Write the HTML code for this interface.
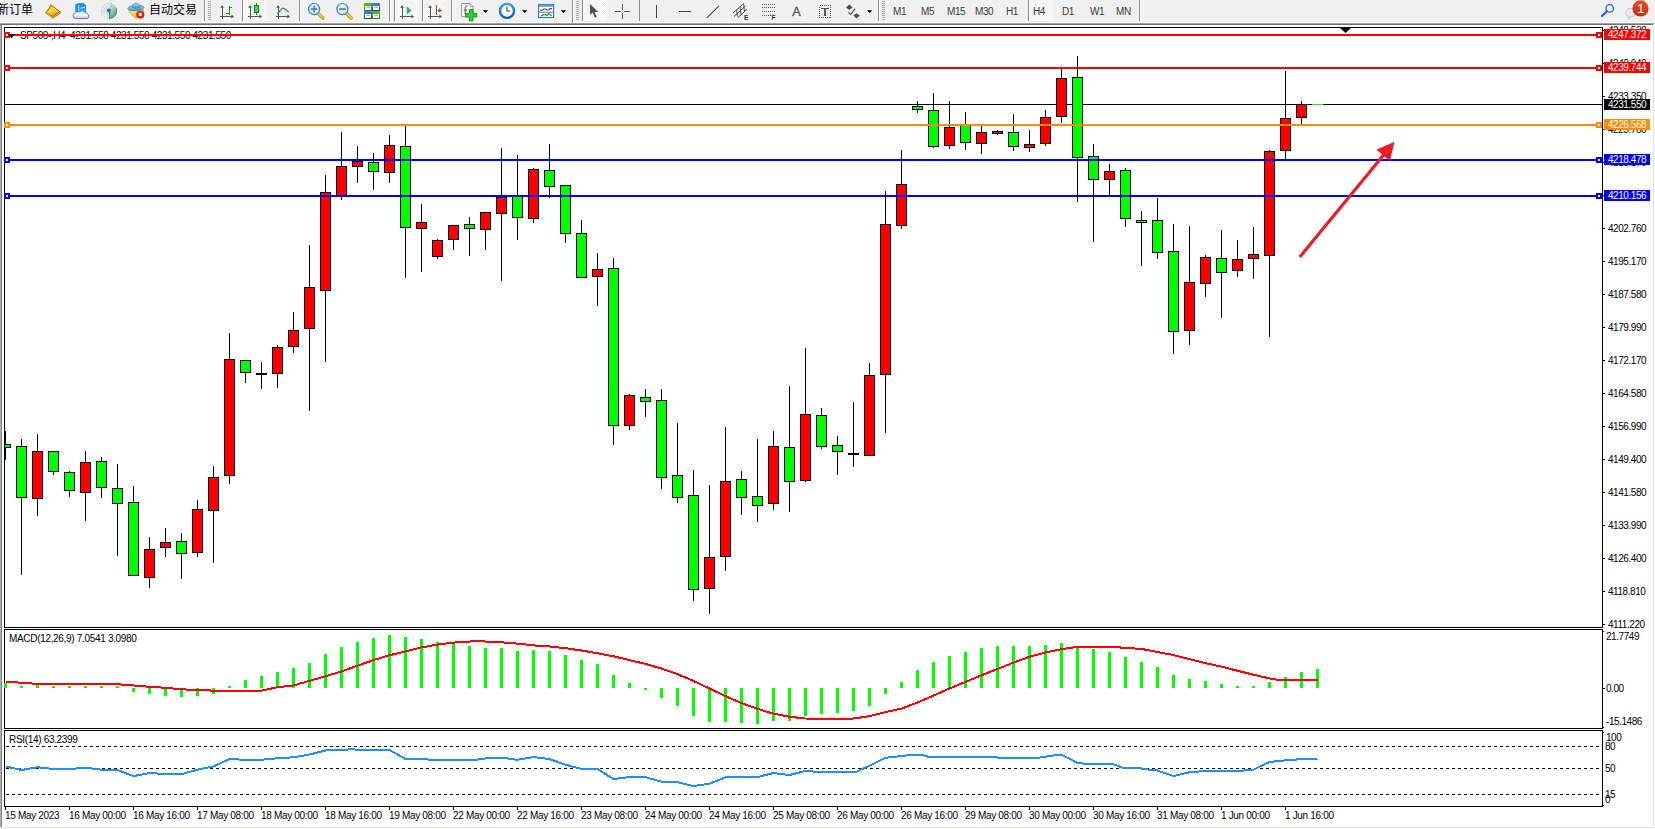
<!DOCTYPE html>
<html><head><meta charset="utf-8"><title>SP500-,H4</title>
<style>
html,body{margin:0;padding:0}
body{width:1655px;height:829px;overflow:hidden;background:#fff;position:relative;font-family:"Liberation Sans","Noto Sans CJK SC",sans-serif}
#tb{position:absolute;left:0;top:0;width:1655px;height:25px;background:#f0f0f0;overflow:hidden}
#tb .cj{position:absolute;top:3px;font-size:12px;line-height:14px;color:#000;white-space:nowrap;font-family:"Liberation Sans","Noto Sans CJK SC",sans-serif}
#tb .tf{position:absolute;top:6px;font-size:10px;line-height:12px;color:#3c3c3c;white-space:nowrap;letter-spacing:-0.4px}
#tb svg{position:absolute;left:0;top:0}
#ch{position:absolute;left:0;top:0}
#ch text{font-family:"Liberation Sans",sans-serif;font-size:10px;fill:#000;letter-spacing:-0.45px}
#ch text.w{fill:#fff}
#ch text.d{letter-spacing:-0.33px}
#ch text.t{letter-spacing:-0.32px}
</style></head><body>

<div id="tb">
<svg width="1655" height="25" viewBox="0 0 1655 25" shape-rendering="crispEdges">
<defs>
<pattern id="chk" width="2" height="2" patternUnits="userSpaceOnUse"><rect width="2" height="2" fill="#f0f0f0"/><rect width="1" height="1" fill="#fdfdfd"/><rect x="1" y="1" width="1" height="1" fill="#fdfdfd"/></pattern>
<linearGradient id="gold" x1="0.2" y1="0" x2="0.7" y2="1"><stop offset="0" stop-color="#e8b422"/><stop offset="0.45" stop-color="#fbdc3a"/><stop offset="1" stop-color="#d39a14"/></linearGradient>
<linearGradient id="blu" x1="0" y1="0" x2="0" y2="1"><stop offset="0" stop-color="#3c9cf0"/><stop offset="1" stop-color="#1058c0"/></linearGradient>
<linearGradient id="hat" x1="0" y1="0" x2="0" y2="1"><stop offset="0" stop-color="#a4daf4"/><stop offset="1" stop-color="#3f9fd6"/></linearGradient>
<linearGradient id="yel" x1="0" y1="0" x2="1" y2="1"><stop offset="0" stop-color="#fff08a"/><stop offset="1" stop-color="#e0a818"/></linearGradient>
<linearGradient id="redg" x1="0" y1="0" x2="0" y2="1"><stop offset="0" stop-color="#e8502c"/><stop offset="1" stop-color="#c82a12"/></linearGradient>
<linearGradient id="grn" x1="0" y1="0" x2="0" y2="1"><stop offset="0" stop-color="#52c422"/><stop offset="1" stop-color="#2a8a12"/></linearGradient>
<linearGradient id="bl2" x1="0" y1="0" x2="0" y2="1"><stop offset="0" stop-color="#4a80e8"/><stop offset="1" stop-color="#1a3cb0"/></linearGradient>
<linearGradient id="cloud" x1="0" y1="0" x2="0" y2="1"><stop offset="0" stop-color="#ffffff"/><stop offset="0.55" stop-color="#f2f5fb"/><stop offset="1" stop-color="#b9c8e6"/></linearGradient>
<linearGradient id="sweep" x1="0" y1="0" x2="0.6" y2="1"><stop offset="0" stop-color="#dfeee0"/><stop offset="0.5" stop-color="#a9d4a4"/><stop offset="1" stop-color="#3fa24a"/></linearGradient>
<radialGradient id="redg2" cx="0.4" cy="0.3" r="0.8"><stop offset="0" stop-color="#f0401c"/><stop offset="1" stop-color="#c81400"/></radialGradient>
<radialGradient id="lens" cx="0.4" cy="0.35" r="0.7"><stop offset="0" stop-color="#f4fbff"/><stop offset="1" stop-color="#bfe0f6"/></radialGradient>
</defs>
<rect x="0" y="22" width="1654" height="1" fill="#f8f8f8"/><rect x="0" y="23" width="1654" height="1" fill="#a2a2a2"/><rect x="0" y="24" width="1653" height="1" fill="#707070"/>
<rect x="1654" y="22" width="1" height="3" fill="#f8f8f8"/>
<g shape-rendering="auto"><path d="M50.5 4.2L60.3 11.2L60.8 13.2L52.9 18.7L45.1 12.9L49.2 7.6z" fill="#a86c12"/><path d="M51 5.6L59.2 11.5L52.6 15.9L46.6 12.4L50 8.2z" fill="url(#gold)"/><path d="M46.4 13.6L52.8 17.5L59.8 12.6" fill="none" stroke="#e8c860" stroke-width="0.8"/><path d="M75.3 4.6L78.6 3.2H83.5L86 5.4V12H75.3z" fill="#0a9af8"/><path d="M75.3 4.6L78.6 3.2H83.5L86 5.4L78.8 5.4z" fill="#3f7fe0"/><path d="M78.8 5.2V12" stroke="#e8f6ff" stroke-width="0.8"/><path d="M80.4 8.2l4.4-0.9" stroke="#d8efff" stroke-width="1.1"/><path d="M80.2 10.4h5" stroke="#7cc6fb" stroke-width="0.8"/><path d="M75.6 18.6a2.7 2.7 0 0 1 -0.5 -5.3a3 3 0 0 1 4.4 -1.2a3.2 3.2 0 0 1 5.4 0.6a2.2 2.2 0 0 1 2.6 1.3a2.4 2.4 0 0 1 -0.6 4.6z" fill="url(#cloud)" stroke="#4a68a8" stroke-width="0.9"/><path d="M109 10.8L110.4 3A8 8 0 0 1 109.4 18.8z" fill="url(#sweep)"/><circle cx="109" cy="10.8" r="7.6" fill="none" stroke="#8fb0e8" stroke-width="0.9" stroke-dasharray="2.2 1.1" opacity="0.75"/><circle cx="109" cy="10.8" r="5.2" fill="none" stroke="#7a9ee2" stroke-width="0.9" stroke-dasharray="1.8 1" opacity="0.7"/><circle cx="109" cy="10.8" r="3.1" fill="none" stroke="#9db8ea" stroke-width="0.8" opacity="0.6"/><path d="M116.4 8.5A7.8 7.8 0 0 1 110 18.6" fill="none" stroke="#3a8a5a" stroke-width="1" opacity="0.8"/><circle cx="108.8" cy="10.5" r="1.9" fill="#2a5ad0"/><path d="M109.6 11v7.7" fill="none" stroke="#22a832" stroke-width="1.3"/><path d="M128.2 10.4L144 9.8L140.5 14.5L135.9 18.7L132 15z" fill="url(#yel)" stroke="#c99a1a" stroke-width="0.6"/><ellipse cx="135.9" cy="7.9" rx="8" ry="2.6" transform="rotate(-4 135.9 7.9)" fill="url(#hat)" stroke="#1e7eae" stroke-width="0.7"/><path d="M132.4 7.6c0-2.6 1.4-4.6 3.6-4.6s3.7 2 3.7 4.4c-2 1-5.2 1.1-7.3 0.2z" fill="url(#hat)" stroke="#1e7eae" stroke-width="0.6"/><circle cx="140.3" cy="14.6" r="4.1" fill="url(#redg2)"/><rect x="138.9" y="13.2" width="2.9" height="2.8" fill="#fff"/></g>
<rect x="204" y="0" width="1" height="21" fill="#8c8c8c"/><rect x="205" y="0" width="1" height="21" fill="#fafafa"/>
<rect x="208" y="1" width="3" height="1" fill="#a6a6a6"/><rect x="208" y="3" width="3" height="1" fill="#a6a6a6"/><rect x="208" y="5" width="3" height="1" fill="#a6a6a6"/><rect x="208" y="7" width="3" height="1" fill="#a6a6a6"/><rect x="208" y="9" width="3" height="1" fill="#a6a6a6"/><rect x="208" y="11" width="3" height="1" fill="#a6a6a6"/><rect x="208" y="13" width="3" height="1" fill="#a6a6a6"/><rect x="208" y="15" width="3" height="1" fill="#a6a6a6"/><rect x="208" y="17" width="3" height="1" fill="#a6a6a6"/><rect x="208" y="19" width="3" height="1" fill="#a6a6a6"/>
<rect x="222" y="6" width="1" height="13" fill="#555"/><rect x="220" y="16" width="13" height="1" fill="#555"/><path d="M222 5.2l2 2.6h-4z" fill="#555" shape-rendering="auto"/><path d="M234 16.5l-2.6 -2v4z" fill="#555" shape-rendering="auto"/>
<rect x="229" y="6" width="1" height="9" fill="#189a18"/><rect x="229" y="7" width="3" height="1" fill="#189a18"/><rect x="226" y="13" width="3" height="1" fill="#189a18"/>
<rect x="242" y="0" width="1" height="21" fill="#8c8c8c"/>
<rect x="243" y="0" width="24" height="21" fill="url(#chk)"/>
<rect x="250" y="6" width="1" height="13" fill="#555"/><rect x="248" y="16" width="13" height="1" fill="#555"/><path d="M250 5.2l2 2.6h-4z" fill="#555" shape-rendering="auto"/><path d="M262 16.5l-2.6 -2v4z" fill="#555" shape-rendering="auto"/>
<rect x="256" y="3" width="1" height="12" fill="#0a8a0a"/><rect x="254" y="5" width="5" height="8" fill="#0a8a0a"/><rect x="255" y="6" width="3" height="6" fill="#3cdc3c"/>
<rect x="278" y="6" width="1" height="13" fill="#555"/><rect x="276" y="16" width="13" height="1" fill="#555"/><path d="M278 5.2l2 2.6h-4z" fill="#555" shape-rendering="auto"/><path d="M290 16.5l-2.6 -2v4z" fill="#555" shape-rendering="auto"/>
<path shape-rendering="auto" d="M277.2 13.8C280 12 281 8.2 283 8.2C285 8.2 286.5 11 288.8 12" fill="none" stroke="#2a9a2a" stroke-width="1.2"/>
<rect x="299" y="0" width="1" height="21" fill="#8c8c8c"/><rect x="300" y="0" width="1" height="21" fill="#fafafa"/>
<g shape-rendering="auto"><path d="M318.2 13.6l4.6 4.4" stroke="#b8901a" stroke-width="3.4" stroke-linecap="round"/><path d="M318.2 13.4l4.6 4.4" stroke="#f0d040" stroke-width="1.8" stroke-linecap="round"/><circle cx="314.1" cy="9.1" r="5.6" fill="url(#lens)" stroke="#3a7ccc" stroke-width="1.2"/><rect x="310.9" y="8.2" width="6.4" height="1.8" fill="#4a86b8"/><rect x="313.2" y="5.9" width="1.8" height="6.4" fill="#4a86b8"/></g>
<g shape-rendering="auto"><path d="M346.5 13.6l4.6 4.4" stroke="#b8901a" stroke-width="3.4" stroke-linecap="round"/><path d="M346.5 13.4l4.6 4.4" stroke="#f0d040" stroke-width="1.8" stroke-linecap="round"/><circle cx="342.4" cy="9.1" r="5.6" fill="url(#lens)" stroke="#3a7ccc" stroke-width="1.2"/><rect x="339.2" y="8.2" width="6.4" height="1.8" fill="#4a86b8"/></g>
<rect x="364" y="3" width="8" height="8" fill="url(#grn)"/><rect x="365" y="6" width="6" height="4" fill="#fff"/><rect x="366" y="7" width="4" height="1" fill="#9ed48a"/>
<rect x="372" y="3" width="8" height="8" fill="url(#bl2)"/><rect x="373" y="6" width="6" height="4" fill="#fff"/><rect x="374" y="7" width="4" height="1" fill="#9ab4ee"/>
<rect x="364" y="11" width="8" height="8" fill="url(#bl2)"/><rect x="365" y="14" width="6" height="4" fill="#fff"/><rect x="366" y="15" width="4" height="1" fill="#9ab4ee"/>
<rect x="372" y="11" width="8" height="8" fill="url(#grn)"/><rect x="373" y="14" width="6" height="4" fill="#fff"/><rect x="374" y="15" width="4" height="1" fill="#9ed48a"/>
<rect x="389" y="0" width="1" height="21" fill="#8c8c8c"/><rect x="390" y="0" width="1" height="21" fill="#fafafa"/>
<rect x="394" y="0" width="1" height="21" fill="#8c8c8c"/>
<rect x="395" y="0" width="24" height="21" fill="url(#chk)"/>
<rect x="402" y="6" width="1" height="13" fill="#555"/><rect x="400" y="16" width="13" height="1" fill="#555"/><path d="M402 5.2l2 2.6h-4z" fill="#555" shape-rendering="auto"/><path d="M414 16.5l-2.6 -2v4z" fill="#555" shape-rendering="auto"/>
<path shape-rendering="auto" d="M407.2 6.9v6.9l3.9 -3.4z" fill="#2ec24a" stroke="#189a30" stroke-width="0.6"/>
<rect x="422" y="0" width="1" height="21" fill="#8c8c8c"/>
<rect x="423" y="0" width="24" height="21" fill="url(#chk)"/>
<rect x="430" y="6" width="1" height="13" fill="#555"/><rect x="428" y="16" width="13" height="1" fill="#555"/><path d="M430 5.2l2 2.6h-4z" fill="#555" shape-rendering="auto"/><path d="M442 16.5l-2.6 -2v4z" fill="#555" shape-rendering="auto"/>
<rect x="436" y="5" width="1" height="10" fill="#1f6eb4"/>
<path shape-rendering="auto" d="M437.2 10.5l3 -2.6v1.9h1.8v1.4h-1.8v1.9z" fill="#e24a0a"/>
<rect x="451" y="0" width="1" height="21" fill="#8c8c8c"/><rect x="452" y="0" width="1" height="21" fill="#fafafa"/>
<g shape-rendering="auto"><path d="M461.6 3.5h8.4l3 3v10h-11.4z" fill="#fafafa" stroke="#8a8a8a" stroke-width="0.9"/><path d="M470 3.5v3h3" fill="#e4e4e4" stroke="#8a8a8a" stroke-width="0.7"/><path d="M467.6 6.2c-1.8-0.4-2.4 0.4-2.4 1.8v6.4M463.8 10.2h3.2" fill="none" stroke="#555" stroke-width="1"/><path d="M469.4 9.6h3.6v3.8h3.8v3.6h-3.8v3.8h-3.6v-3.8h-3.8v-3.6h3.8z" fill="#2fd02f" stroke="#0e8a0e" stroke-width="0.9"/></g>
<path d="M482.8 10.2h5.4l-2.7 2.9z" fill="#000" shape-rendering="auto"/>
<g shape-rendering="auto"><circle cx="507" cy="10.9" r="7" fill="#fdfdfd" stroke="url(#blu)" stroke-width="2.4"/><path d="M507 6.6v4.4h3.2" fill="none" stroke="#444" stroke-width="1.1"/><circle cx="507" cy="14.6" r="0.7" fill="#8ab8ee"/></g>
<path d="M522.0 10.2h5.4l-2.7 2.9z" fill="#000" shape-rendering="auto"/>
<g shape-rendering="auto"><rect x="538.6" y="4.5" width="15" height="13" fill="#fff" stroke="#3a72c4" stroke-width="1.1"/><rect x="539" y="4.6" width="14.2" height="2.2" fill="#5a9ae4"/><path d="M539 12.2h14.2" stroke="#3a72c4" stroke-width="0.9"/><path d="M540.2 10.4h2l1.8-1.4h1.6l1.4 1h1.8l1.4-1.4h1.8" fill="none" stroke="#a83210" stroke-width="1.2"/><path d="M540.8 15.6h1.4l1.6-1h1.6l1.4 1l2-2.2l2 2.2h1" fill="none" stroke="#1c9a2c" stroke-width="1.2"/></g>
<path d="M560.8 10.2h5.4l-2.7 2.9z" fill="#000" shape-rendering="auto"/>
<rect x="572" y="0" width="1" height="23" fill="#8c8c8c"/><rect x="573" y="0" width="1" height="23" fill="#fafafa"/>
<rect x="576" y="1" width="3" height="1" fill="#a6a6a6"/><rect x="576" y="3" width="3" height="1" fill="#a6a6a6"/><rect x="576" y="5" width="3" height="1" fill="#a6a6a6"/><rect x="576" y="7" width="3" height="1" fill="#a6a6a6"/><rect x="576" y="9" width="3" height="1" fill="#a6a6a6"/><rect x="576" y="11" width="3" height="1" fill="#a6a6a6"/><rect x="576" y="13" width="3" height="1" fill="#a6a6a6"/><rect x="576" y="15" width="3" height="1" fill="#a6a6a6"/><rect x="576" y="17" width="3" height="1" fill="#a6a6a6"/><rect x="576" y="19" width="3" height="1" fill="#a6a6a6"/>
<rect x="582" y="0" width="1" height="21" fill="#8c8c8c"/>
<rect x="583" y="0" width="24" height="21" fill="url(#chk)"/>
<path shape-rendering="auto" d="M590 4v11l2.6-2.4l2.2 5l1.9-0.9l-2.2-4.8h3.7z" fill="#505050"/>
<rect x="615" y="11" width="6" height="1" fill="#555"/><rect x="624" y="11" width="6" height="1" fill="#555"/><rect x="622" y="4" width="1" height="6" fill="#555"/><rect x="622" y="13" width="1" height="6" fill="#555"/><rect x="622" y="11" width="1" height="1" fill="#999"/>
<rect x="639" y="0" width="1" height="21" fill="#8c8c8c"/>
<rect x="656" y="5" width="1" height="13" fill="#444"/>
<rect x="679" y="11" width="12" height="1" fill="#444"/>
<path shape-rendering="auto" d="M706.8 17.8L719 5.8" stroke="#444" stroke-width="1.1"/>
<g shape-rendering="auto" stroke="#444" stroke-width="1" fill="none"><path d="M733 13l9.5-8.5M734 16.5l11.5-10.5M738 17.5l9-8.2"/><path d="M736.5 9.5l1 7M740 7l1 7.5M743.5 3.2l1 8" stroke-width="0.9"/></g>
<text x="744" y="19.6" font-size="6.5" font-weight="bold" fill="#333" font-family="Liberation Sans, sans-serif">E</text>
<line x1="762" y1="4.5" x2="775" y2="4.5" stroke="#555" stroke-width="1" stroke-dasharray="1 1"/>
<line x1="762" y1="7.5" x2="775" y2="7.5" stroke="#555" stroke-width="1" stroke-dasharray="1 1"/>
<line x1="762" y1="11.5" x2="775" y2="11.5" stroke="#555" stroke-width="1" stroke-dasharray="1 1"/>
<line x1="762" y1="15.5" x2="771" y2="15.5" stroke="#555" stroke-width="1" stroke-dasharray="1 1"/>
<text x="771.6" y="19.6" font-size="6.5" font-weight="bold" fill="#333" font-family="Liberation Sans, sans-serif">F</text>
<text x="792.3" y="16" font-size="12.6" fill="#555" stroke="#555" stroke-width="0.3" font-family="Liberation Sans, sans-serif">A</text>
<rect x="819.5" y="5.5" width="11" height="12" fill="none" stroke="#555" stroke-width="1" stroke-dasharray="1 1"/>
<rect x="821" y="8" width="8" height="1" fill="#555"/><rect x="824" y="8" width="2" height="8" fill="#555"/>
<path shape-rendering="auto" d="M849.3 4.6l3.3 3l-3.3 2.4l-3.3-2.4zM856.5 18.6l3.3-3l-3.3-2.4l-3.3 2.4z" fill="#505050"/><path shape-rendering="auto" d="M848.3 12.6l2.4 1.8l4.4-5.6" fill="none" stroke="#505050" stroke-width="1.3"/>
<path d="M867.0 10.2h5.4l-2.7 2.9z" fill="#000" shape-rendering="auto"/>
<rect x="878" y="0" width="1" height="21" fill="#8c8c8c"/><rect x="879" y="0" width="1" height="21" fill="#fafafa"/>
<rect x="882" y="1" width="3" height="1" fill="#a6a6a6"/><rect x="882" y="3" width="3" height="1" fill="#a6a6a6"/><rect x="882" y="5" width="3" height="1" fill="#a6a6a6"/><rect x="882" y="7" width="3" height="1" fill="#a6a6a6"/><rect x="882" y="9" width="3" height="1" fill="#a6a6a6"/><rect x="882" y="11" width="3" height="1" fill="#a6a6a6"/><rect x="882" y="13" width="3" height="1" fill="#a6a6a6"/><rect x="882" y="15" width="3" height="1" fill="#a6a6a6"/><rect x="882" y="17" width="3" height="1" fill="#a6a6a6"/><rect x="882" y="19" width="3" height="1" fill="#a6a6a6"/>
<rect x="1028" y="0" width="1" height="21" fill="#8c8c8c"/>
<rect x="1029" y="0" width="24" height="21" fill="url(#chk)"/>
<rect x="1139" y="0" width="1" height="21" fill="#8c8c8c"/><rect x="1140" y="0" width="1" height="21" fill="#fafafa"/>
<g shape-rendering="auto"><circle cx="1609.7" cy="8.4" r="3.7" fill="#f4f4f4" stroke="#2a5fd2" stroke-width="1.3"/><path d="M1607 11.2l-5 4.8" stroke="#2a5fd2" stroke-width="2.2" stroke-linecap="round"/></g>
<g shape-rendering="auto"><path d="M1627 9.5c3-2 8-1.5 10 1c1.5 3-1 6-6.5 6.2l-1.6 2.6l-0.4-2.8c-3-0.8-4-4.6-1.5-7z" fill="#e6e8ee" stroke="#bcbcc4" stroke-width="0.8"/><circle cx="1640.5" cy="8.4" r="8.1" fill="url(#redg)"/></g>
<text x="1637" y="13.2" font-size="13.5" fill="#fff" font-family="Liberation Sans, sans-serif">1</text>
</svg>
<div class="cj" style="left:-3px">新订单</div>
<div class="cj" style="left:149px">自动交易</div>
<div class="tf" style="left:893px">M1</div>
<div class="tf" style="left:921px">M5</div>
<div class="tf" style="left:947px">M15</div>
<div class="tf" style="left:975px">M30</div>
<div class="tf" style="left:1006px">H1</div>
<div class="tf" style="left:1033px">H4</div>
<div class="tf" style="left:1062px">D1</div>
<div class="tf" style="left:1090px">W1</div>
<div class="tf" style="left:1116px">MN</div>
</div>
<svg id="ch" width="1655" height="829" viewBox="0 0 1655 829" shape-rendering="crispEdges">
<rect x="0" y="25" width="1" height="802" fill="#b0b0b0"/><rect x="1" y="25" width="1" height="802" fill="#808080"/>
<rect x="1653" y="25" width="1" height="803" fill="#e4e4e4"/>
<rect x="0" y="827" width="1654" height="1" fill="#e4e4e4"/>
<rect x="5" y="104" width="1597" height="1" fill="#000"/>
<clipPath id="cp"><rect x="5" y="28" width="1597" height="599"/></clipPath><g clip-path="url(#cp)">
<rect x="5" y="431" width="1" height="29" fill="#000"/>
<rect x="0" y="444" width="11" height="4" fill="#000"/>
<rect x="1" y="445" width="9" height="2" fill="#00ff00"/>
<rect x="21" y="439" width="1" height="136" fill="#000"/>
<rect x="16" y="446" width="11" height="52" fill="#000"/>
<rect x="17" y="447" width="9" height="50" fill="#00ff00"/>
<rect x="37" y="434" width="1" height="82" fill="#000"/>
<rect x="32" y="451" width="11" height="48" fill="#000"/>
<rect x="33" y="452" width="9" height="46" fill="#ff0000"/>
<rect x="53" y="451" width="1" height="24" fill="#000"/>
<rect x="48" y="451" width="11" height="21" fill="#000"/>
<rect x="49" y="452" width="9" height="19" fill="#00ff00"/>
<rect x="69" y="471" width="1" height="26" fill="#000"/>
<rect x="64" y="472" width="11" height="19" fill="#000"/>
<rect x="65" y="473" width="9" height="17" fill="#00ff00"/>
<rect x="85" y="451" width="1" height="70" fill="#000"/>
<rect x="80" y="462" width="11" height="31" fill="#000"/>
<rect x="81" y="463" width="9" height="29" fill="#ff0000"/>
<rect x="101" y="457" width="1" height="41" fill="#000"/>
<rect x="96" y="461" width="11" height="27" fill="#000"/>
<rect x="97" y="462" width="9" height="25" fill="#00ff00"/>
<rect x="117" y="464" width="1" height="92" fill="#000"/>
<rect x="112" y="488" width="11" height="16" fill="#000"/>
<rect x="113" y="489" width="9" height="14" fill="#00ff00"/>
<rect x="133" y="486" width="1" height="89" fill="#000"/>
<rect x="128" y="502" width="11" height="74" fill="#000"/>
<rect x="129" y="503" width="9" height="72" fill="#00ff00"/>
<rect x="149" y="537" width="1" height="51" fill="#000"/>
<rect x="144" y="549" width="11" height="29" fill="#000"/>
<rect x="145" y="550" width="9" height="27" fill="#ff0000"/>
<rect x="165" y="528" width="1" height="29" fill="#000"/>
<rect x="160" y="542" width="11" height="6" fill="#000"/>
<rect x="161" y="543" width="9" height="4" fill="#ff0000"/>
<rect x="181" y="533" width="1" height="46" fill="#000"/>
<rect x="176" y="541" width="11" height="13" fill="#000"/>
<rect x="177" y="542" width="9" height="11" fill="#00ff00"/>
<rect x="197" y="500" width="1" height="57" fill="#000"/>
<rect x="192" y="509" width="11" height="44" fill="#000"/>
<rect x="193" y="510" width="9" height="42" fill="#ff0000"/>
<rect x="213" y="466" width="1" height="97" fill="#000"/>
<rect x="208" y="477" width="11" height="34" fill="#000"/>
<rect x="209" y="478" width="9" height="32" fill="#ff0000"/>
<rect x="229" y="333" width="1" height="151" fill="#000"/>
<rect x="224" y="359" width="11" height="117" fill="#000"/>
<rect x="225" y="360" width="9" height="115" fill="#ff0000"/>
<rect x="245" y="360" width="1" height="23" fill="#000"/>
<rect x="240" y="360" width="11" height="13" fill="#000"/>
<rect x="241" y="361" width="9" height="11" fill="#00ff00"/>
<rect x="261" y="362" width="1" height="27" fill="#000"/>
<rect x="256" y="373" width="11" height="2" fill="#000"/>
<rect x="277" y="345" width="1" height="43" fill="#000"/>
<rect x="272" y="347" width="11" height="27" fill="#000"/>
<rect x="273" y="348" width="9" height="25" fill="#ff0000"/>
<rect x="293" y="312" width="1" height="41" fill="#000"/>
<rect x="288" y="330" width="11" height="17" fill="#000"/>
<rect x="289" y="331" width="9" height="15" fill="#ff0000"/>
<rect x="309" y="245" width="1" height="166" fill="#000"/>
<rect x="304" y="287" width="11" height="42" fill="#000"/>
<rect x="305" y="288" width="9" height="40" fill="#ff0000"/>
<rect x="325" y="175" width="1" height="187" fill="#000"/>
<rect x="320" y="192" width="11" height="99" fill="#000"/>
<rect x="321" y="193" width="9" height="97" fill="#ff0000"/>
<rect x="341" y="132" width="1" height="68" fill="#000"/>
<rect x="336" y="166" width="11" height="30" fill="#000"/>
<rect x="337" y="167" width="9" height="28" fill="#ff0000"/>
<rect x="357" y="146" width="1" height="37" fill="#000"/>
<rect x="352" y="161" width="11" height="6" fill="#000"/>
<rect x="353" y="162" width="9" height="4" fill="#ff0000"/>
<rect x="373" y="153" width="1" height="37" fill="#000"/>
<rect x="368" y="162" width="11" height="10" fill="#000"/>
<rect x="369" y="163" width="9" height="8" fill="#00ff00"/>
<rect x="389" y="135" width="1" height="48" fill="#000"/>
<rect x="384" y="145" width="11" height="28" fill="#000"/>
<rect x="385" y="146" width="9" height="26" fill="#ff0000"/>
<rect x="405" y="125" width="1" height="153" fill="#000"/>
<rect x="400" y="146" width="11" height="82" fill="#000"/>
<rect x="401" y="147" width="9" height="80" fill="#00ff00"/>
<rect x="421" y="204" width="1" height="68" fill="#000"/>
<rect x="416" y="222" width="11" height="7" fill="#000"/>
<rect x="417" y="223" width="9" height="5" fill="#ff0000"/>
<rect x="437" y="239" width="1" height="20" fill="#000"/>
<rect x="432" y="240" width="11" height="17" fill="#000"/>
<rect x="433" y="241" width="9" height="15" fill="#ff0000"/>
<rect x="453" y="225" width="1" height="25" fill="#000"/>
<rect x="448" y="225" width="11" height="15" fill="#000"/>
<rect x="449" y="226" width="9" height="13" fill="#ff0000"/>
<rect x="469" y="217" width="1" height="39" fill="#000"/>
<rect x="464" y="224" width="11" height="5" fill="#000"/>
<rect x="465" y="225" width="9" height="3" fill="#00ff00"/>
<rect x="485" y="212" width="1" height="38" fill="#000"/>
<rect x="480" y="212" width="11" height="18" fill="#000"/>
<rect x="481" y="213" width="9" height="16" fill="#ff0000"/>
<rect x="501" y="148" width="1" height="133" fill="#000"/>
<rect x="496" y="197" width="11" height="17" fill="#000"/>
<rect x="497" y="198" width="9" height="15" fill="#ff0000"/>
<rect x="517" y="155" width="1" height="85" fill="#000"/>
<rect x="512" y="196" width="11" height="22" fill="#000"/>
<rect x="513" y="197" width="9" height="20" fill="#00ff00"/>
<rect x="533" y="168" width="1" height="55" fill="#000"/>
<rect x="528" y="169" width="11" height="50" fill="#000"/>
<rect x="529" y="170" width="9" height="48" fill="#ff0000"/>
<rect x="549" y="144" width="1" height="54" fill="#000"/>
<rect x="544" y="170" width="11" height="17" fill="#000"/>
<rect x="545" y="171" width="9" height="15" fill="#00ff00"/>
<rect x="565" y="186" width="1" height="57" fill="#000"/>
<rect x="560" y="185" width="11" height="49" fill="#000"/>
<rect x="561" y="186" width="9" height="47" fill="#00ff00"/>
<rect x="581" y="220" width="1" height="57" fill="#000"/>
<rect x="576" y="233" width="11" height="45" fill="#000"/>
<rect x="577" y="234" width="9" height="43" fill="#00ff00"/>
<rect x="597" y="253" width="1" height="53" fill="#000"/>
<rect x="592" y="269" width="11" height="8" fill="#000"/>
<rect x="593" y="270" width="9" height="6" fill="#ff0000"/>
<rect x="613" y="258" width="1" height="187" fill="#000"/>
<rect x="608" y="268" width="11" height="158" fill="#000"/>
<rect x="609" y="269" width="9" height="156" fill="#00ff00"/>
<rect x="629" y="394" width="1" height="36" fill="#000"/>
<rect x="624" y="395" width="11" height="31" fill="#000"/>
<rect x="625" y="396" width="9" height="29" fill="#ff0000"/>
<rect x="645" y="389" width="1" height="28" fill="#000"/>
<rect x="640" y="397" width="11" height="5" fill="#000"/>
<rect x="641" y="398" width="9" height="3" fill="#00ff00"/>
<rect x="661" y="389" width="1" height="100" fill="#000"/>
<rect x="656" y="400" width="11" height="78" fill="#000"/>
<rect x="657" y="401" width="9" height="76" fill="#00ff00"/>
<rect x="677" y="423" width="1" height="80" fill="#000"/>
<rect x="672" y="475" width="11" height="23" fill="#000"/>
<rect x="673" y="476" width="9" height="21" fill="#00ff00"/>
<rect x="693" y="470" width="1" height="131" fill="#000"/>
<rect x="688" y="495" width="11" height="95" fill="#000"/>
<rect x="689" y="496" width="9" height="93" fill="#00ff00"/>
<rect x="709" y="485" width="1" height="129" fill="#000"/>
<rect x="704" y="557" width="11" height="32" fill="#000"/>
<rect x="705" y="558" width="9" height="30" fill="#ff0000"/>
<rect x="725" y="427" width="1" height="144" fill="#000"/>
<rect x="720" y="481" width="11" height="76" fill="#000"/>
<rect x="721" y="482" width="9" height="74" fill="#ff0000"/>
<rect x="741" y="471" width="1" height="44" fill="#000"/>
<rect x="736" y="479" width="11" height="19" fill="#000"/>
<rect x="737" y="480" width="9" height="17" fill="#00ff00"/>
<rect x="757" y="439" width="1" height="83" fill="#000"/>
<rect x="752" y="496" width="11" height="10" fill="#000"/>
<rect x="753" y="497" width="9" height="8" fill="#00ff00"/>
<rect x="773" y="431" width="1" height="79" fill="#000"/>
<rect x="768" y="446" width="11" height="58" fill="#000"/>
<rect x="769" y="447" width="9" height="56" fill="#ff0000"/>
<rect x="789" y="386" width="1" height="126" fill="#000"/>
<rect x="784" y="447" width="11" height="35" fill="#000"/>
<rect x="785" y="448" width="9" height="33" fill="#00ff00"/>
<rect x="805" y="348" width="1" height="134" fill="#000"/>
<rect x="800" y="414" width="11" height="67" fill="#000"/>
<rect x="801" y="415" width="9" height="65" fill="#ff0000"/>
<rect x="821" y="408" width="1" height="41" fill="#000"/>
<rect x="816" y="415" width="11" height="32" fill="#000"/>
<rect x="817" y="416" width="9" height="30" fill="#00ff00"/>
<rect x="837" y="436" width="1" height="39" fill="#000"/>
<rect x="832" y="445" width="11" height="7" fill="#000"/>
<rect x="833" y="446" width="9" height="5" fill="#00ff00"/>
<rect x="853" y="402" width="1" height="65" fill="#000"/>
<rect x="848" y="453" width="11" height="2" fill="#000"/>
<rect x="869" y="363" width="1" height="93" fill="#000"/>
<rect x="864" y="375" width="11" height="81" fill="#000"/>
<rect x="865" y="376" width="9" height="79" fill="#ff0000"/>
<rect x="885" y="191" width="1" height="242" fill="#000"/>
<rect x="880" y="224" width="11" height="151" fill="#000"/>
<rect x="881" y="225" width="9" height="149" fill="#ff0000"/>
<rect x="901" y="150" width="1" height="79" fill="#000"/>
<rect x="896" y="184" width="11" height="42" fill="#000"/>
<rect x="897" y="185" width="9" height="40" fill="#ff0000"/>
<rect x="917" y="101" width="1" height="12" fill="#000"/>
<rect x="912" y="106" width="11" height="4" fill="#000"/>
<rect x="913" y="107" width="9" height="2" fill="#00ff00"/>
<rect x="933" y="93" width="1" height="55" fill="#000"/>
<rect x="928" y="110" width="11" height="37" fill="#000"/>
<rect x="929" y="111" width="9" height="35" fill="#00ff00"/>
<rect x="949" y="101" width="1" height="48" fill="#000"/>
<rect x="944" y="127" width="11" height="19" fill="#000"/>
<rect x="945" y="128" width="9" height="17" fill="#ff0000"/>
<rect x="965" y="112" width="1" height="38" fill="#000"/>
<rect x="960" y="125" width="11" height="18" fill="#000"/>
<rect x="961" y="126" width="9" height="16" fill="#00ff00"/>
<rect x="981" y="126" width="1" height="28" fill="#000"/>
<rect x="976" y="132" width="11" height="12" fill="#000"/>
<rect x="977" y="133" width="9" height="10" fill="#ff0000"/>
<rect x="997" y="130" width="1" height="5" fill="#000"/>
<rect x="992" y="131" width="11" height="3" fill="#000"/>
<rect x="993" y="132" width="9" height="1" fill="#ff0000"/>
<rect x="1013" y="114" width="1" height="37" fill="#000"/>
<rect x="1008" y="132" width="11" height="15" fill="#000"/>
<rect x="1009" y="133" width="9" height="13" fill="#00ff00"/>
<rect x="1029" y="130" width="1" height="22" fill="#000"/>
<rect x="1024" y="144" width="11" height="4" fill="#000"/>
<rect x="1025" y="145" width="9" height="2" fill="#ff0000"/>
<rect x="1045" y="110" width="1" height="36" fill="#000"/>
<rect x="1040" y="117" width="11" height="27" fill="#000"/>
<rect x="1041" y="118" width="9" height="25" fill="#ff0000"/>
<rect x="1061" y="69" width="1" height="54" fill="#000"/>
<rect x="1056" y="78" width="11" height="39" fill="#000"/>
<rect x="1057" y="79" width="9" height="37" fill="#ff0000"/>
<rect x="1077" y="56" width="1" height="146" fill="#000"/>
<rect x="1072" y="77" width="11" height="81" fill="#000"/>
<rect x="1073" y="78" width="9" height="79" fill="#00ff00"/>
<rect x="1093" y="144" width="1" height="98" fill="#000"/>
<rect x="1088" y="156" width="11" height="24" fill="#000"/>
<rect x="1089" y="157" width="9" height="22" fill="#00ff00"/>
<rect x="1109" y="164" width="1" height="31" fill="#000"/>
<rect x="1104" y="171" width="11" height="9" fill="#000"/>
<rect x="1105" y="172" width="9" height="7" fill="#ff0000"/>
<rect x="1125" y="168" width="1" height="59" fill="#000"/>
<rect x="1120" y="170" width="11" height="49" fill="#000"/>
<rect x="1121" y="171" width="9" height="47" fill="#00ff00"/>
<rect x="1141" y="211" width="1" height="55" fill="#000"/>
<rect x="1136" y="220" width="11" height="3" fill="#000"/>
<rect x="1137" y="221" width="9" height="1" fill="#00ff00"/>
<rect x="1157" y="198" width="1" height="61" fill="#000"/>
<rect x="1152" y="220" width="11" height="33" fill="#000"/>
<rect x="1153" y="221" width="9" height="31" fill="#00ff00"/>
<rect x="1173" y="224" width="1" height="130" fill="#000"/>
<rect x="1168" y="251" width="11" height="81" fill="#000"/>
<rect x="1169" y="252" width="9" height="79" fill="#00ff00"/>
<rect x="1189" y="226" width="1" height="119" fill="#000"/>
<rect x="1184" y="282" width="11" height="49" fill="#000"/>
<rect x="1185" y="283" width="9" height="47" fill="#ff0000"/>
<rect x="1205" y="255" width="1" height="42" fill="#000"/>
<rect x="1200" y="257" width="11" height="27" fill="#000"/>
<rect x="1201" y="258" width="9" height="25" fill="#ff0000"/>
<rect x="1221" y="230" width="1" height="88" fill="#000"/>
<rect x="1216" y="258" width="11" height="15" fill="#000"/>
<rect x="1217" y="259" width="9" height="13" fill="#00ff00"/>
<rect x="1237" y="240" width="1" height="37" fill="#000"/>
<rect x="1232" y="259" width="11" height="12" fill="#000"/>
<rect x="1233" y="260" width="9" height="10" fill="#ff0000"/>
<rect x="1253" y="227" width="1" height="52" fill="#000"/>
<rect x="1248" y="254" width="11" height="5" fill="#000"/>
<rect x="1249" y="255" width="9" height="3" fill="#ff0000"/>
<rect x="1269" y="150" width="1" height="187" fill="#000"/>
<rect x="1264" y="151" width="11" height="105" fill="#000"/>
<rect x="1265" y="152" width="9" height="103" fill="#ff0000"/>
<rect x="1285" y="71" width="1" height="88" fill="#000"/>
<rect x="1280" y="118" width="11" height="33" fill="#000"/>
<rect x="1281" y="119" width="9" height="31" fill="#ff0000"/>
<rect x="1301" y="101" width="1" height="23" fill="#000"/>
<rect x="1296" y="104" width="11" height="14" fill="#000"/>
<rect x="1297" y="105" width="9" height="12" fill="#ff0000"/>
<rect x="1312" y="104" width="11" height="1" fill="#00ff00"/>
</g>
<text class="t" x="20" y="39" style="font-size:10px" xml:space="preserve" textLength="211" lengthAdjust="spacing">SP500-,H4  4231.550 4231.550 4231.550 4231.550</text>
<rect x="4" y="27" width="1599" height="1" fill="#000"/>
<rect x="4" y="27" width="1" height="780" fill="#000"/>
<rect x="1602" y="27" width="1" height="780" fill="#000"/>
<rect x="4" y="627" width="1599" height="1" fill="#000"/><rect x="4" y="628" width="1599" height="1" fill="#fff"/><rect x="4" y="629" width="1599" height="1" fill="#000"/>
<rect x="4" y="728" width="1599" height="1" fill="#000"/><rect x="4" y="729" width="1599" height="1" fill="#fff"/><rect x="4" y="730" width="1599" height="1" fill="#000"/>
<rect x="4" y="806" width="1599" height="1" fill="#000"/>
<rect x="1603" y="631" width="1" height="1" fill="#000"/><rect x="1603" y="727" width="1" height="1" fill="#000"/><rect x="1603" y="732" width="1" height="1" fill="#000"/><rect x="1603" y="805" width="1" height="1" fill="#000"/>
<rect x="5" y="34" width="1597" height="2" fill="#ff0000"/><rect x="4" y="32" width="6" height="6" fill="#ff0000"/><rect x="6" y="34" width="2" height="2" fill="#fff"/><rect x="1596" y="32" width="6" height="6" fill="#ff0000"/><rect x="1598" y="34" width="2" height="2" fill="#fff"/>
<rect x="5" y="67" width="1597" height="2" fill="#ff0000"/><rect x="4" y="65" width="6" height="6" fill="#ff0000"/><rect x="6" y="67" width="2" height="2" fill="#fff"/><rect x="1596" y="65" width="6" height="6" fill="#ff0000"/><rect x="1598" y="67" width="2" height="2" fill="#fff"/>
<rect x="5" y="124" width="1597" height="2" fill="#ff8c00"/><rect x="4" y="122" width="6" height="6" fill="#ff8c00"/><rect x="6" y="124" width="2" height="2" fill="#fff"/><rect x="1596" y="122" width="6" height="6" fill="#ff8c00"/><rect x="1598" y="124" width="2" height="2" fill="#fff"/>
<rect x="5" y="159" width="1597" height="2" fill="#0000ff"/><rect x="4" y="157" width="6" height="6" fill="#0000ff"/><rect x="6" y="159" width="2" height="2" fill="#fff"/><rect x="1596" y="157" width="6" height="6" fill="#0000ff"/><rect x="1598" y="159" width="2" height="2" fill="#fff"/>
<rect x="5" y="195" width="1597" height="2" fill="#0000ff"/><rect x="4" y="193" width="6" height="6" fill="#0000ff"/><rect x="6" y="195" width="2" height="2" fill="#fff"/><rect x="1596" y="193" width="6" height="6" fill="#0000ff"/><rect x="1598" y="195" width="2" height="2" fill="#fff"/>
<path d="M8 34h7l-3.5 4.2z" fill="#000" shape-rendering="auto"/>
<g shape-rendering="auto"><line x1="1299.8" y1="257" x2="1384" y2="154.5" stroke="#ed1c24" stroke-width="3.2"/><path d="M1394.5 141.8L1376.4 149.7L1389.9 160.9z" fill="#ed1c24"/></g>
<path d="M1340 28h11l-5.5 5z" fill="#000" shape-rendering="auto"/>
<rect x="1603" y="30" width="2" height="1" fill="#000"/><text x="1608" y="34">4248.530</text>
<rect x="1603" y="63" width="2" height="1" fill="#000"/><text x="1608" y="67">4240.940</text>
<rect x="1603" y="96" width="2" height="1" fill="#000"/><text x="1608" y="100">4233.350</text>
<rect x="1603" y="129" width="2" height="1" fill="#000"/><text x="1608" y="133">4225.760</text>
<rect x="1603" y="162" width="2" height="1" fill="#000"/><text x="1608" y="166">4218.170</text>
<rect x="1603" y="195" width="2" height="1" fill="#000"/><text x="1608" y="199">4210.580</text>
<rect x="1603" y="228" width="2" height="1" fill="#000"/><text x="1608" y="232">4202.760</text>
<rect x="1603" y="261" width="2" height="1" fill="#000"/><text x="1608" y="265">4195.170</text>
<rect x="1603" y="294" width="2" height="1" fill="#000"/><text x="1608" y="298">4187.580</text>
<rect x="1603" y="327" width="2" height="1" fill="#000"/><text x="1608" y="331">4179.990</text>
<rect x="1603" y="360" width="2" height="1" fill="#000"/><text x="1608" y="364">4172.170</text>
<rect x="1603" y="393" width="2" height="1" fill="#000"/><text x="1608" y="397">4164.580</text>
<rect x="1603" y="426" width="2" height="1" fill="#000"/><text x="1608" y="430">4156.990</text>
<rect x="1603" y="459" width="2" height="1" fill="#000"/><text x="1608" y="463">4149.400</text>
<rect x="1603" y="492" width="2" height="1" fill="#000"/><text x="1608" y="496">4141.580</text>
<rect x="1603" y="525" width="2" height="1" fill="#000"/><text x="1608" y="529">4133.990</text>
<rect x="1603" y="558" width="2" height="1" fill="#000"/><text x="1608" y="562">4126.400</text>
<rect x="1603" y="591" width="2" height="1" fill="#000"/><text x="1608" y="595">4118.810</text>
<rect x="1603" y="624" width="2" height="1" fill="#000"/><text x="1608" y="628">4111.220</text>
<rect x="1604" y="29" width="46" height="11" fill="#ff0000"/><text class="w" x="1608" y="38">4247.372</text>
<rect x="1604" y="62" width="46" height="11" fill="#ff0000"/><text class="w" x="1608" y="71">4239.744</text>
<rect x="1604" y="99" width="46" height="11" fill="#000000"/><text class="w" x="1608" y="108">4231.550</text>
<rect x="1604" y="119" width="46" height="11" fill="#ff8c00"/><text class="w" x="1608" y="128">4226.568</text>
<rect x="1604" y="154" width="46" height="11" fill="#0000ff"/><text class="w" x="1608" y="163">4218.478</text>
<rect x="1604" y="190" width="46" height="11" fill="#0000ff"/><text class="w" x="1608" y="199">4210.156</text>
<rect x="4" y="683" width="3" height="5" fill="#00ff00"/>
<rect x="20" y="686" width="3" height="2" fill="#00ff00"/>
<rect x="36" y="685" width="3" height="3" fill="#00ff00"/>
<rect x="52" y="686" width="3" height="2" fill="#00ff00"/>
<rect x="68" y="686" width="3" height="2" fill="#00ff00"/>
<rect x="84" y="686" width="3" height="2" fill="#00ff00"/>
<rect x="100" y="686" width="3" height="2" fill="#00ff00"/>
<rect x="116" y="686" width="3" height="2" fill="#00ff00"/>
<rect x="132" y="688" width="3" height="4" fill="#00ff00"/>
<rect x="148" y="688" width="3" height="6" fill="#00ff00"/>
<rect x="164" y="688" width="3" height="8" fill="#00ff00"/>
<rect x="180" y="688" width="3" height="9" fill="#00ff00"/>
<rect x="196" y="688" width="3" height="8" fill="#00ff00"/>
<rect x="212" y="688" width="3" height="6" fill="#00ff00"/>
<rect x="228" y="686" width="3" height="2" fill="#00ff00"/>
<rect x="244" y="680" width="3" height="8" fill="#00ff00"/>
<rect x="260" y="676" width="3" height="12" fill="#00ff00"/>
<rect x="276" y="672" width="3" height="16" fill="#00ff00"/>
<rect x="292" y="668" width="3" height="20" fill="#00ff00"/>
<rect x="308" y="663" width="3" height="25" fill="#00ff00"/>
<rect x="324" y="654" width="3" height="34" fill="#00ff00"/>
<rect x="340" y="647" width="3" height="41" fill="#00ff00"/>
<rect x="356" y="642" width="3" height="46" fill="#00ff00"/>
<rect x="372" y="638" width="3" height="50" fill="#00ff00"/>
<rect x="388" y="635" width="3" height="53" fill="#00ff00"/>
<rect x="404" y="637" width="3" height="51" fill="#00ff00"/>
<rect x="420" y="639" width="3" height="49" fill="#00ff00"/>
<rect x="436" y="642" width="3" height="46" fill="#00ff00"/>
<rect x="452" y="644" width="3" height="44" fill="#00ff00"/>
<rect x="468" y="646" width="3" height="42" fill="#00ff00"/>
<rect x="484" y="648" width="3" height="40" fill="#00ff00"/>
<rect x="500" y="648" width="3" height="40" fill="#00ff00"/>
<rect x="516" y="651" width="3" height="37" fill="#00ff00"/>
<rect x="532" y="650" width="3" height="38" fill="#00ff00"/>
<rect x="548" y="651" width="3" height="37" fill="#00ff00"/>
<rect x="564" y="655" width="3" height="33" fill="#00ff00"/>
<rect x="580" y="660" width="3" height="28" fill="#00ff00"/>
<rect x="596" y="664" width="3" height="24" fill="#00ff00"/>
<rect x="612" y="675" width="3" height="13" fill="#00ff00"/>
<rect x="628" y="683" width="3" height="5" fill="#00ff00"/>
<rect x="644" y="688" width="3" height="2" fill="#00ff00"/>
<rect x="660" y="688" width="3" height="10" fill="#00ff00"/>
<rect x="676" y="688" width="3" height="18" fill="#00ff00"/>
<rect x="692" y="688" width="3" height="28" fill="#00ff00"/>
<rect x="708" y="688" width="3" height="34" fill="#00ff00"/>
<rect x="724" y="688" width="3" height="34" fill="#00ff00"/>
<rect x="740" y="688" width="3" height="35" fill="#00ff00"/>
<rect x="756" y="688" width="3" height="36" fill="#00ff00"/>
<rect x="772" y="688" width="3" height="33" fill="#00ff00"/>
<rect x="788" y="688" width="3" height="33" fill="#00ff00"/>
<rect x="804" y="688" width="3" height="28" fill="#00ff00"/>
<rect x="820" y="688" width="3" height="26" fill="#00ff00"/>
<rect x="836" y="688" width="3" height="25" fill="#00ff00"/>
<rect x="852" y="688" width="3" height="23" fill="#00ff00"/>
<rect x="868" y="688" width="3" height="18" fill="#00ff00"/>
<rect x="884" y="688" width="3" height="6" fill="#00ff00"/>
<rect x="900" y="682" width="3" height="6" fill="#00ff00"/>
<rect x="916" y="670" width="3" height="18" fill="#00ff00"/>
<rect x="932" y="662" width="3" height="26" fill="#00ff00"/>
<rect x="948" y="656" width="3" height="32" fill="#00ff00"/>
<rect x="964" y="652" width="3" height="36" fill="#00ff00"/>
<rect x="980" y="648" width="3" height="40" fill="#00ff00"/>
<rect x="996" y="646" width="3" height="42" fill="#00ff00"/>
<rect x="1012" y="646" width="3" height="42" fill="#00ff00"/>
<rect x="1028" y="646" width="3" height="42" fill="#00ff00"/>
<rect x="1044" y="645" width="3" height="43" fill="#00ff00"/>
<rect x="1060" y="643" width="3" height="45" fill="#00ff00"/>
<rect x="1076" y="646" width="3" height="42" fill="#00ff00"/>
<rect x="1092" y="649" width="3" height="39" fill="#00ff00"/>
<rect x="1108" y="652" width="3" height="36" fill="#00ff00"/>
<rect x="1124" y="657" width="3" height="31" fill="#00ff00"/>
<rect x="1140" y="662" width="3" height="26" fill="#00ff00"/>
<rect x="1156" y="667" width="3" height="21" fill="#00ff00"/>
<rect x="1172" y="675" width="3" height="13" fill="#00ff00"/>
<rect x="1188" y="679" width="3" height="9" fill="#00ff00"/>
<rect x="1204" y="681" width="3" height="7" fill="#00ff00"/>
<rect x="1220" y="684" width="3" height="4" fill="#00ff00"/>
<rect x="1236" y="686" width="3" height="2" fill="#00ff00"/>
<rect x="1252" y="686" width="3" height="2" fill="#00ff00"/>
<rect x="1268" y="682" width="3" height="6" fill="#00ff00"/>
<rect x="1284" y="677" width="3" height="11" fill="#00ff00"/>
<rect x="1300" y="672" width="3" height="16" fill="#00ff00"/>
<rect x="1316" y="669" width="3" height="19" fill="#00ff00"/>
<polyline shape-rendering="crispEdges" fill="none" stroke="#ff0000" stroke-width="2" stroke-linejoin="round" points="5.6,681.9 21.6,682.7 37.6,684.0 117.5,684.2 133.5,685.5 149.5,686.8 165.5,687.8 181.5,689.3 197.5,690.1 213.5,690.6 229.4,690.8 245.4,690.8 261.4,690.6 277.4,687.3 293.4,685.5 309.4,680.9 325.4,676.3 341.4,671.5 357.4,665.7 373.4,660.1 389.3,655.3 405.3,651.5 421.6,647.4 437.6,644.6 453.6,642.6 476.1,641.1 501.5,642.3 517.5,643.6 533.5,645.4 549.5,646.4 565.5,648.2 581.5,650.5 597.5,653.2 613.5,656.3 629.4,660.1 645.4,663.9 661.4,668.5 677.4,674.1 693.4,680.9 709.4,688.5 725.4,696.1 741.4,703.0 757.4,708.8 773.4,713.7 789.3,716.7 805.3,718.5 821.6,719.0 837.6,719.0 853.6,718.5 869.5,716.2 885.5,712.1 901.5,708.6 917.5,702.5 933.5,695.6 949.5,688.5 965.5,681.9 981.5,675.3 997.5,669.0 1013.5,662.6 1029.4,656.8 1045.4,652.5 1061.4,649.2 1077.4,646.9 1093.4,646.6 1109.4,646.6 1125.4,647.9 1141.4,648.9 1157.4,652.0 1173.4,655.0 1189.3,659.1 1205.3,663.1 1221.6,666.7 1237.6,670.8 1253.6,674.8 1269.5,678.4 1278.7,679.9 1317.5,679.9"/>
<text class="t" x="9" y="642">MACD(12,26,9) 7.0541 3.0980</text>
<text x="1606" y="640">21.7749</text><rect x="1603" y="688" width="2" height="1" fill="#000"/><text x="1606" y="692">0.00</text><text x="1606" y="725">-15.1486</text>
<line x1="6" y1="746.5" x2="1602" y2="746.5" stroke="#000" stroke-width="1" stroke-dasharray="3 3"/>
<line x1="6" y1="768.5" x2="1602" y2="768.5" stroke="#000" stroke-width="1" stroke-dasharray="3 3"/>
<line x1="6" y1="794.5" x2="1602" y2="794.5" stroke="#000" stroke-width="1" stroke-dasharray="3 3"/>
<polyline shape-rendering="crispEdges" fill="none" stroke="#1e90ff" stroke-width="2" stroke-linejoin="round" points="5.6,766.4 21.6,770.0 37.6,767.2 53.6,769.0 69.5,769.0 85.5,767.7 101.5,769.7 117.5,770.0 133.5,776.1 149.5,773.0 165.5,774.1 181.5,774.1 197.5,769.7 213.5,766.4 229.4,759.1 245.4,759.8 261.4,759.8 277.4,758.3 293.4,757.3 309.4,754.5 325.4,750.5 341.4,749.9 352.8,749.2 357.4,749.9 373.4,749.9 389.3,749.9 405.3,758.8 420.1,758.8 421.6,758.8 430.5,759.8 476.1,759.8 486.3,758.3 506.6,758.3 517.5,759.8 533.5,757.1 549.5,759.1 565.5,764.7 581.5,769.0 597.5,769.0 613.5,779.1 629.4,777.1 645.4,777.1 661.4,781.7 677.4,782.2 693.4,786.0 709.4,783.7 725.4,777.4 757.4,777.1 773.4,773.0 789.3,775.1 805.3,771.0 810.2,770.8 815.2,772.0 855.8,772.0 869.5,765.7 885.5,757.8 901.5,756.0 911.7,754.8 921.8,754.8 929.4,757.1 995.4,757.1 1000.5,758.1 1036.0,758.1 1045.4,756.8 1053.8,755.3 1062.7,755.3 1077.4,762.9 1086.8,763.9 1112.2,763.9 1122.3,767.5 1140.1,767.5 1142.6,769.0 1157.4,770.5 1173.4,776.1 1189.3,772.3 1205.3,771.0 1237.6,771.0 1253.6,769.7 1269.5,761.9 1285.5,760.4 1301.5,759.1 1317.5,758.8"/>
<text class="t" x="9" y="743">RSI(14) 63.2399</text>
<text x="1606" y="741">100</text><text x="1605" y="750">80</text><text x="1605" y="772">50</text><text x="1605" y="798">15</text><text x="1605" y="803">0</text>
<rect x="5" y="807" width="1" height="3" fill="#000"/><text class="d" x="5" y="819">15 May 2023</text>
<rect x="69" y="807" width="1" height="3" fill="#000"/><text class="d" x="69" y="819">16 May 00:00</text>
<rect x="133" y="807" width="1" height="3" fill="#000"/><text class="d" x="133" y="819">16 May 16:00</text>
<rect x="197" y="807" width="1" height="3" fill="#000"/><text class="d" x="197" y="819">17 May 08:00</text>
<rect x="261" y="807" width="1" height="3" fill="#000"/><text class="d" x="261" y="819">18 May 00:00</text>
<rect x="325" y="807" width="1" height="3" fill="#000"/><text class="d" x="325" y="819">18 May 16:00</text>
<rect x="389" y="807" width="1" height="3" fill="#000"/><text class="d" x="389" y="819">19 May 08:00</text>
<rect x="453" y="807" width="1" height="3" fill="#000"/><text class="d" x="453" y="819">22 May 00:00</text>
<rect x="517" y="807" width="1" height="3" fill="#000"/><text class="d" x="517" y="819">22 May 16:00</text>
<rect x="581" y="807" width="1" height="3" fill="#000"/><text class="d" x="581" y="819">23 May 08:00</text>
<rect x="645" y="807" width="1" height="3" fill="#000"/><text class="d" x="645" y="819">24 May 00:00</text>
<rect x="709" y="807" width="1" height="3" fill="#000"/><text class="d" x="709" y="819">24 May 16:00</text>
<rect x="773" y="807" width="1" height="3" fill="#000"/><text class="d" x="773" y="819">25 May 08:00</text>
<rect x="837" y="807" width="1" height="3" fill="#000"/><text class="d" x="837" y="819">26 May 00:00</text>
<rect x="901" y="807" width="1" height="3" fill="#000"/><text class="d" x="901" y="819">26 May 16:00</text>
<rect x="965" y="807" width="1" height="3" fill="#000"/><text class="d" x="965" y="819">29 May 08:00</text>
<rect x="1029" y="807" width="1" height="3" fill="#000"/><text class="d" x="1029" y="819">30 May 00:00</text>
<rect x="1093" y="807" width="1" height="3" fill="#000"/><text class="d" x="1093" y="819">30 May 16:00</text>
<rect x="1157" y="807" width="1" height="3" fill="#000"/><text class="d" x="1157" y="819">31 May 08:00</text>
<rect x="1221" y="807" width="1" height="3" fill="#000"/><text class="d" x="1221" y="819">1 Jun 00:00</text>
<rect x="1285" y="807" width="1" height="3" fill="#000"/><text class="d" x="1285" y="819">1 Jun 16:00</text>
</svg>
</body></html>
